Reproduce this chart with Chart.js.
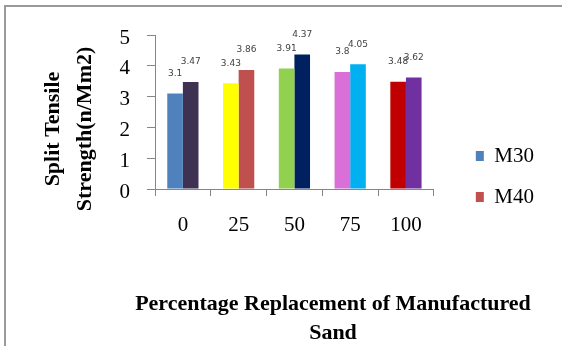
<!DOCTYPE html>
<html>
<head>
<meta charset="utf-8">
<title>Split Tensile Strength</title>
<script src="https://cdn.jsdelivr.net/npm/chart.js@4"></script>
<style>
  html, body { margin: 0; padding: 0; background: #fff; overflow: hidden; }
  #frame { position: absolute; left: 4px; top: 5px; width: 560px; height: 343px; border-top: 2px solid #9a9a9a; border-left: 2px solid #9a9a9a; }
  #chart { position: absolute; left: 0; top: 0; }
</style>
</head>
<body>
<div id="frame"></div>
<canvas id="chart" width="562" height="346"></canvas>
<script>
const categories = ["0", "25", "50", "75", "100"];
const m30 = [3.1, 3.43, 3.91, 3.8, 3.48];
const m40 = [3.47, 3.86, 4.37, 4.05, 3.62];
const yTicks = [0, 1, 2, 3, 4, 5];

const m30Colors = ["#4F81BD", "#FFFF00", "#92D050", "#DA6FD8", "#C00000"];
const m40Colors = ["#3F3151", "#C0504D", "#002060", "#00B0F0", "#7030A0"];
const seriesColors = ["#4F81BD", "#C0504D"];

const xTitle = ["Percentage Replacement of Manufactured", "Sand"];
const yTitle = ["Split Tensile", "Strength(n/Mm2)"];

const axisColor = "#868686";
const serif = "Liberation Serif";
const tickFont = { family: serif, size: 21 };

// value printed above every bar
const barValues = {
    id: "barValues",
    afterDatasetsDraw(chart) {
        const ctx = chart.ctx;
        ctx.save();
        ctx.font = "9px 'DejaVu Sans'";
        ctx.fillStyle = "#404040";
        ctx.textAlign = "center";
        ctx.textBaseline = "middle";
        chart.data.datasets.forEach((ds, i) => {
            chart.getDatasetMeta(i).data.forEach((bar, j) => {
                ctx.fillText(String(ds.data[j]), bar.x, bar.y - 20);
            });
        });
        ctx.restore();
    }
};

// two-line axis titles, bold serif
const axisTitles = {
    id: "axisTitles",
    afterDraw(chart) {
        const ctx = chart.ctx;
        ctx.save();
        ctx.font = `bold 22px '${serif}'`;
        ctx.fillStyle = "#000";
        ctx.textAlign = "center";
        ctx.textBaseline = "middle";
        xTitle.forEach((line, i) => ctx.fillText(line, 333, 304 + i * 29));
        ctx.translate(53, 129);
        ctx.rotate(-Math.PI / 2);
        yTitle.forEach((line, i) => ctx.fillText(line, 0, i * 32));
        ctx.restore();
    }
};

// push the legend a little away from the plot
const legendGap = {
    id: "legendGap",
    afterLayout(chart) {
        chart.legend.left += 22;
        chart.legend.right += 22;
    }
};

new Chart(document.getElementById("chart"), {
    type: "bar",
    data: {
        labels: categories,
        datasets: [
            { label: "M30", data: m30, backgroundColor: m30Colors },
            { label: "M40", data: m40, backgroundColor: m40Colors }
        ]
    },
    options: {
        responsive: false,
        animation: false,
        layout: { padding: { top: 35, left: 0, right: 40, bottom: 28 } },
        datasets: { bar: { categoryPercentage: 0.56, barPercentage: 1.0 } },
        scales: {
            x: {
                afterFit: (scale) => { scale.height = 129; },
                border: { color: axisColor },
                grid: { drawOnChartArea: false, color: axisColor, tickLength: 7, offset: true },
                ticks: { padding: 17, maxRotation: 0, color: "#000", font: tickFont }
            },
            y: {
                min: 0,
                max: 5,
                afterFit: (scale) => { scale.width = 155; },
                afterBuildTicks: (scale) => { scale.ticks = yTicks.map((v) => ({ value: v })); },
                border: { color: axisColor },
                grid: { drawOnChartArea: false, color: axisColor, tickLength: 8 },
                ticks: { padding: 17, labelOffset: 3, color: "#000", font: tickFont }
            }
        },
        plugins: {
            legend: {
                position: "right",
                labels: {
                    boxWidth: 8,
                    boxHeight: 10,
                    padding: 20,
                    color: "#000",
                    font: tickFont,
                    // one swatch per series, not the first bar's colour
                    generateLabels: (chart) => {
                        const items = Chart.defaults.plugins.legend.labels.generateLabels(chart);
                        items.forEach((item, i) => {
                            item.fillStyle = seriesColors[i];
                            item.strokeStyle = seriesColors[i];
                            item.lineWidth = 0;
                        });
                        return items;
                    }
                }
            },
            tooltip: { enabled: false }
        }
    },
    plugins: [barValues, axisTitles, legendGap]
});
</script>
</body>
</html>
